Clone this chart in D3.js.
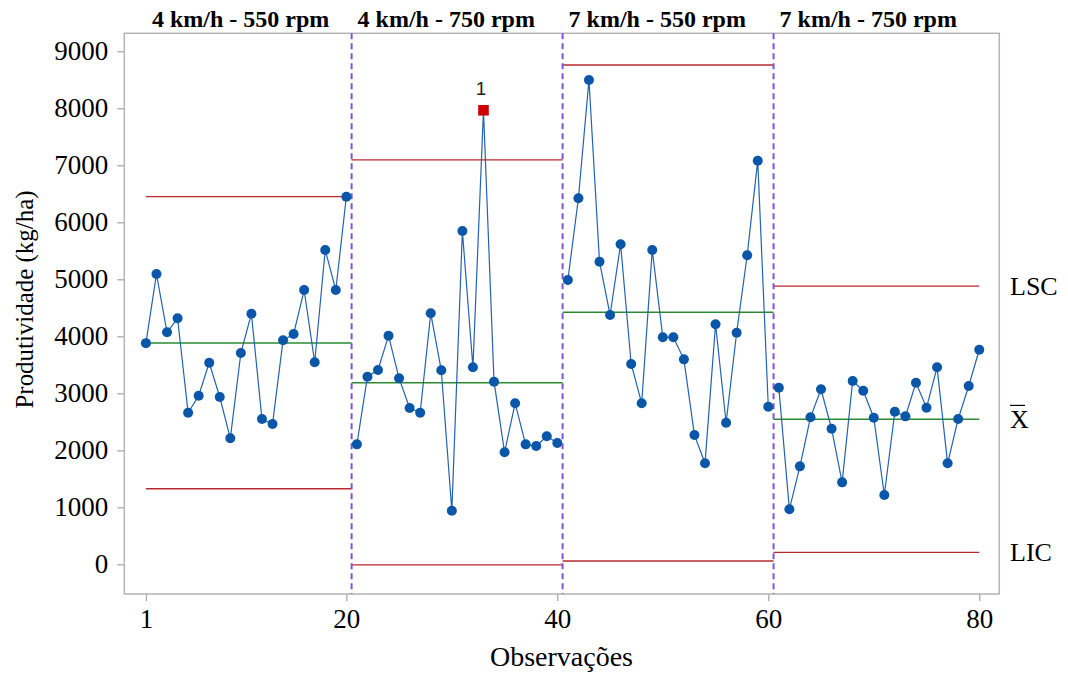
<!DOCTYPE html>
<html>
<head>
<meta charset="utf-8">
<script src="https://cdn.jsdelivr.net/npm/d3@7"></script>
<style>
  html, body { margin: 0; padding: 0; background: #fff; }
  svg { display: block; }
</style>
</head>
<body>
<svg id="chart" width="1068" height="675"></svg>
<script>
// Observations per stage (kg/ha)
const stageNames = ["4 km/h - 550 rpm", "4 km/h - 750 rpm", "7 km/h - 550 rpm", "7 km/h - 750 rpm"];
const stage1 = [3880, 5093, 4070, 4316, 2660, 2958, 3537, 2935, 2211, 3707, 4396, 2549, 2461, 3930, 4040, 4812, 3544, 5514, 4812, 6449];
const stage2 = [2105, 3291, 3409, 4011, 3263, 2742, 2660, 4404, 3404, 940, 5846, 3456, 7965, 3204, 1965, 2825, 2105, 2075, 2246, 2128];
const stage3 = [4988, 6421, 8496, 5309, 4374, 5614, 3514, 2825, 5514, 3982, 3982, 3596, 2268, 1772, 4211, 2484, 4063, 5421, 7081, 2765];
const stage4 = [3098, 965, 1719, 2579, 3070, 2379, 1438, 3216, 3046, 2572, 1216, 2677, 2596, 3186, 2747, 3456, 1772, 2549, 3128, 3765];

// Control limits per stage
const ucl = [6450, 7095, 8760, 4880];
const centerLine = [3882, 3186, 4421, 2544];
const lcl = [1326, -10, 58, 210];

// Axis ticks and labels
const xTicks = [1, 20, 40, 60, 80];
const yTicks = [0, 1000, 2000, 3000, 4000, 5000, 6000, 7000, 8000, 9000];
const limitLabels = ["LSC", "X", "LIC"];

const stages = [stage1, stage2, stage3, stage4];
const nObs = d3.sum(stages, s => s.length);

const svg = d3.select("#chart");
const plot = { left: 124.3, right: 999.3, top: 33.3, bottom: 594 };

const x = d3.scaleLinear().domain([-1.05, 81.9]).range([plot.left, plot.right]);
const y = d3.scaleLinear().domain([-520, 9315]).range([plot.bottom, plot.top]);

const serif = "'Liberation Serif', 'Times New Roman', serif";
const sans = "'Liberation Sans', Arial, sans-serif";

// Stage boundaries on the observation index
let start = 1;
const stageInfo = stages.map((vals, i) => {
  const info = { i, vals, first: start, last: start + vals.length - 1 };
  start += vals.length;
  return info;
});

// Axes
const yAxis = d3.axisLeft(y).tickValues(yTicks).tickSize(7).tickPadding(9).tickFormat(d3.format("d"));
const xAxis = d3.axisBottom(x).tickValues(xTicks).tickSize(7).tickPadding(8).tickFormat(d3.format("d"));

const gy = svg.append("g").attr("transform", `translate(${plot.left},0)`).call(yAxis);
const gx = svg.append("g").attr("transform", `translate(0,${plot.bottom})`).call(xAxis);
[gx, gy].forEach(g => {
  g.select(".domain").remove();
  g.selectAll(".tick line").attr("stroke", "#a8a8a8").attr("stroke-width", 1.3);
  g.selectAll(".tick text").attr("fill", "#000").style("font-family", serif).style("font-size", "27px");
});

// Plot frame
svg.append("rect")
  .attr("x", plot.left).attr("y", plot.top)
  .attr("width", plot.right - plot.left).attr("height", plot.bottom - plot.top)
  .attr("fill", "none").attr("stroke", "#b4b4b4").attr("stroke-width", 1.5);

// Control limit segments
const segX = s => [Math.max(s.first - 0.5, 1), Math.min(s.last + 0.5, nObs)];
const limits = [
  { arr: ucl, color: "#b8282e" },
  { arr: lcl, color: "#b8282e" },
  { arr: centerLine, color: "#2a8a32" }
];
limits.forEach(L => {
  svg.append("g").selectAll("line").data(stageInfo).join("line")
    .attr("x1", s => x(segX(s)[0])).attr("x2", s => x(segX(s)[1]))
    .attr("y1", s => y(L.arr[s.i])).attr("y2", s => y(L.arr[s.i]))
    .attr("stroke", L.color).attr("stroke-width", 1.4);
});

// Stage dividers
svg.append("g").selectAll("line").data(stageInfo.slice(1)).join("line")
  .attr("x1", s => x(s.first - 0.5)).attr("x2", s => x(s.first - 0.5))
  .attr("y1", plot.top).attr("y2", plot.bottom)
  .attr("stroke", "#8152d8").attr("stroke-width", 2)
  .attr("stroke-dasharray", "6,4");

// Data lines and points
const line = d3.line().x(d => x(d.obs)).y(d => y(d.v));
stageInfo.forEach(s => {
  const pts = s.vals.map((v, k) => ({ obs: s.first + k, v, out: v > ucl[s.i] || v < lcl[s.i] }));
  svg.append("path").datum(pts).attr("d", line)
    .attr("fill", "none").attr("stroke", "#2462b0").attr("stroke-width", 1.2);
  svg.append("g").selectAll("circle").data(pts.filter(p => !p.out)).join("circle")
    .attr("cx", d => x(d.obs)).attr("cy", d => y(d.v)).attr("r", 5)
    .attr("fill", "#0a56a8");
  const outs = pts.filter(p => p.out);
  svg.append("g").selectAll("rect").data(outs).join("rect")
    .attr("x", d => x(d.obs) - 5.3).attr("y", d => y(d.v) - 5.3)
    .attr("width", 10.6).attr("height", 10.6)
    .attr("fill", "#d00000");
  svg.append("g").selectAll("text").data(outs).join("text")
    .attr("x", d => x(d.obs) - 2.5).attr("y", d => y(d.v) - 15)
    .attr("text-anchor", "middle")
    .style("font-family", sans).style("font-size", "19px").attr("fill", "#222")
    .text("1");
});

// Stage titles
svg.append("g").selectAll("text").data(stageInfo).join("text")
  .attr("x", s => x(Math.max(s.first - 0.5, 1)) + 6)
  .attr("y", 26.5)
  .style("font-family", serif).style("font-size", "24px").style("font-weight", "bold")
  .attr("fill", "#000")
  .text(s => stageNames[s.i]);

// Limit labels for the last stage
const lastI = stages.length - 1;
const labelVals = [ucl[lastI], centerLine[lastI], lcl[lastI]];
const lblG = svg.append("g");
labelVals.forEach((v, k) => {
  const t = lblG.append("text")
    .attr("x", 1010).attr("y", y(v) + 8.6)
    .style("font-family", serif).style("font-size", "26px").attr("fill", "#000")
    .text(limitLabels[k]);
  if (limitLabels[k] === "X") {
    const yy = y(v) + 8.6 - 22.5;
    lblG.append("line").attr("x1", 1010).attr("x2", 1025).attr("y1", yy).attr("y2", yy)
      .attr("stroke", "#000").attr("stroke-width", 1.2);
  }
});

// Axis titles
svg.append("text")
  .attr("x", 561.5).attr("y", 666)
  .attr("text-anchor", "middle")
  .style("font-family", serif).style("font-size", "28px").attr("fill", "#000")
  .text("Observações");

svg.append("text")
  .attr("transform", "translate(33,299.5) rotate(-90)")
  .attr("text-anchor", "middle")
  .attr("textLength", 218).attr("lengthAdjust", "spacingAndGlyphs")
  .style("font-family", serif).style("font-size", "26px").attr("fill", "#000")
  .text("Produtividade (kg/ha)");
</script>
</body>
</html>
